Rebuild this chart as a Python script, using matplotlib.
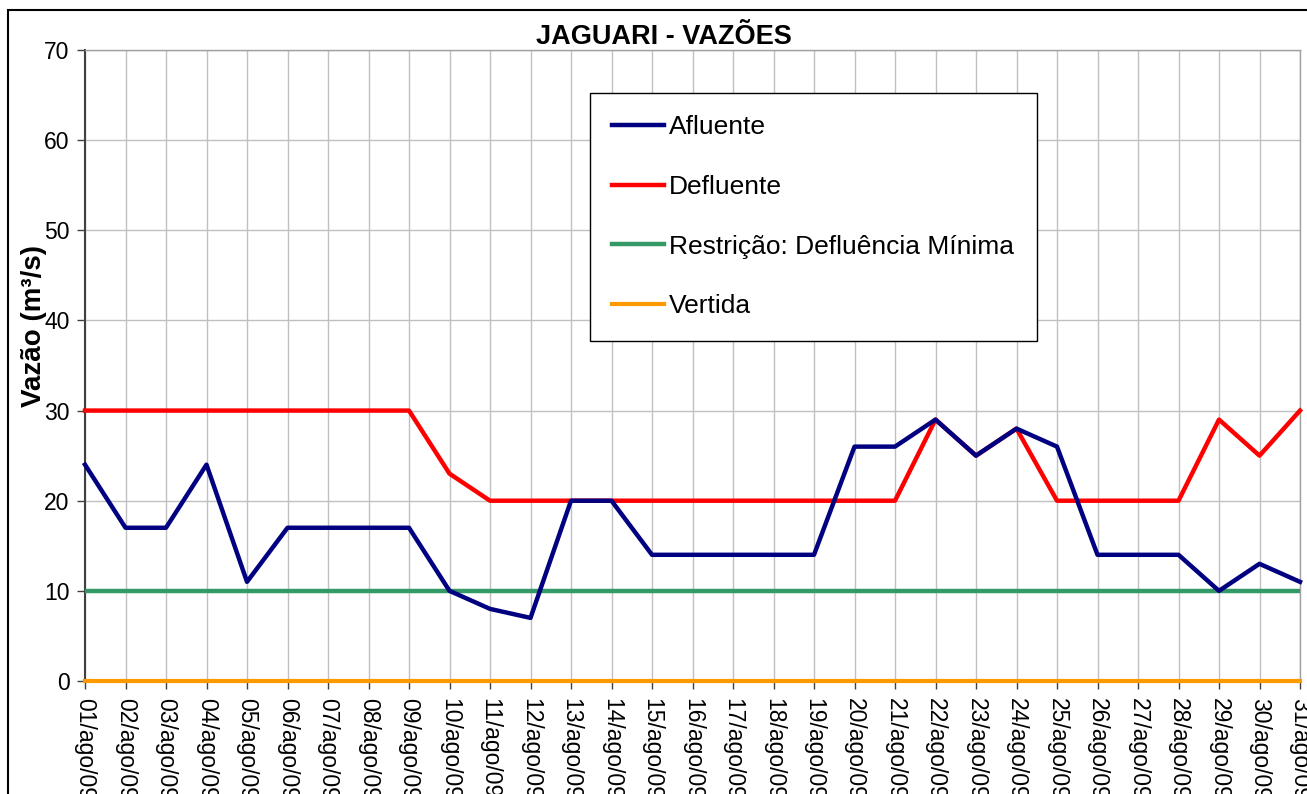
import matplotlib
matplotlib.use("Agg")
import matplotlib.pyplot as plt
from matplotlib.patches import Rectangle

plt.rcParams['font.family'] = ['Liberation Sans', 'DejaVu Sans']

dias = [f"{d:02d}/ago/09" for d in range(1, 32)]
afluente = [24, 17, 17, 24, 11, 17, 17, 17, 17, 10, 8, 7, 20, 20, 14, 14, 14, 14, 14,
            26, 26, 29, 25, 28, 26, 14, 14, 14, 10, 13, 11]
defluente = [30, 30, 30, 30, 30, 30, 30, 30, 30, 23, 20, 20, 20, 20, 20, 20, 20, 20, 20,
             20, 20, 29, 25, 28, 20, 20, 20, 20, 29, 25, 30]
restricao = [10] * 31
vertida = [0] * 31
yticks = [0, 10, 20, 30, 40, 50, 60, 70]

W, H = 1307, 794
fig = plt.figure(figsize=(W / 100, H / 100), dpi=100)
ax = fig.add_axes([85 / W, 1 - 681 / H, (1300 - 85) / W, (681 - 50) / H])

x = list(range(len(dias)))
ax.plot(x, vertida, color='#FF9900', lw=3, label='Vertida', zorder=3, clip_on=False)
ax.plot(x, restricao, color='#339966', lw=3.2, label='Restrição: Defluência Mínima', zorder=3)
ax.plot(x, defluente, color='#FF0000', lw=3.2, label='Defluente', zorder=4, clip_on=False)
ax.plot(x, afluente, color='#000080', lw=3.2, label='Afluente', zorder=5, clip_on=False)

ax.set_xlim(0, len(dias) - 1)
ax.set_ylim(0, 70)
ax.set_yticks(yticks)
ax.set_xticks(x)
ax.set_xticklabels(dias, rotation=270, fontsize=16.5, va='top', ha='center')
ax.tick_params(axis='y', labelsize=16.5, length=6, width=1, color='#404040', pad=5)
ax.tick_params(axis='x', length=6, width=1, color='#404040', pad=6)
ax.grid(True, color='#c0c0c0', lw=1)
ax.set_axisbelow(True)
for s in ['top', 'right']:
    ax.spines[s].set_color('#a0a0a0')
    ax.spines[s].set_linewidth(1)
ax.spines['left'].set_color('#404040')
ax.spines['bottom'].set_color('#404040')
ax.spines['left'].set_linewidth(1.5)

ax.set_ylabel('Vazão (m³/s)', fontsize=20, fontweight='bold')
ax.yaxis.set_label_coords((47 - 85) / (1300 - 85), (681 - 326) / (681 - 50))
ax.set_title('JAGUARI - VAZÕES', fontsize=19.5, fontweight='bold', pad=4,
             x=(664 - 85) / (1300 - 85))

handles, labels = ax.get_legend_handles_labels()
order = [3, 2, 1, 0]
leg = ax.legend([handles[i] for i in order], [labels[i] for i in order],
                loc='upper left', bbox_to_anchor=(590 / W, 1 - 93 / H),
                bbox_transform=fig.transFigure, fontsize=19, frameon=True,
                fancybox=False, framealpha=1, edgecolor='black',
                borderpad=0.85, labelspacing=1.35, handlelength=1.95,
                handletextpad=0.2, borderaxespad=0)
leg.get_frame().set_linewidth(1)

fig.patches.append(Rectangle((8 / W, -0.05), 1.1, 1 - 10 / H + 0.05,
                             transform=fig.transFigure, fill=False,
                             edgecolor='black', lw=1.5, zorder=10))

fig.savefig('out.png', dpi=100)
